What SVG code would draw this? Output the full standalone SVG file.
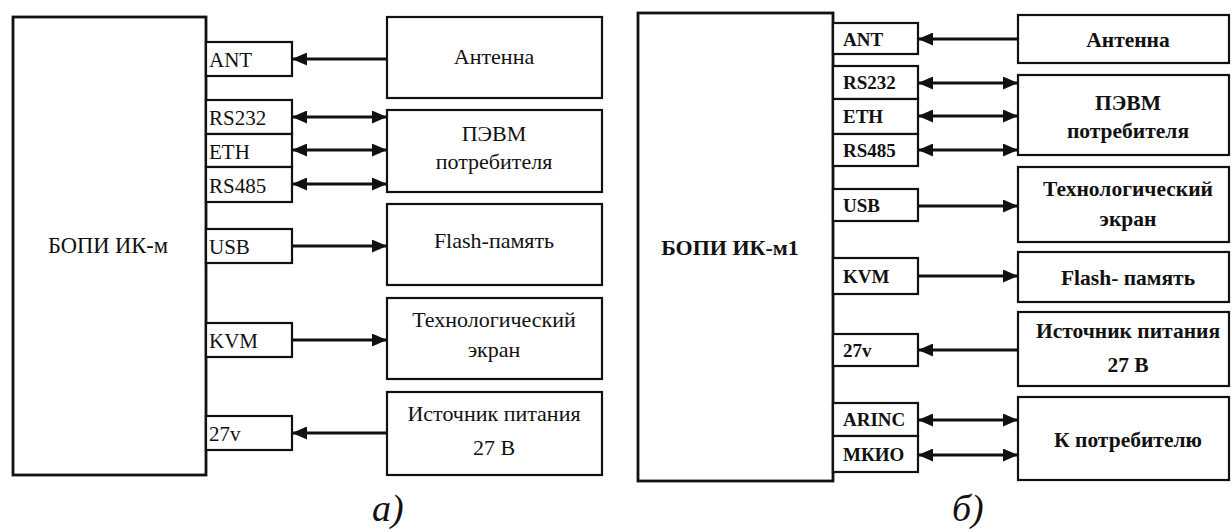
<svg xmlns="http://www.w3.org/2000/svg" width="1232" height="532" viewBox="0 0 1232 532">
<style>
.box{fill:#fff;stroke:#111;stroke-width:2.2}
.main{fill:#fff;stroke:#111;stroke-width:2.8}
.t{font-family:"Liberation Serif","DejaVu Serif","Times New Roman",serif;fill:#111}
.pa{font-size:21px}
.pb{font-size:19px;font-weight:bold}
.ra{font-size:22px;text-anchor:middle}
.rb{font-size:21.5px;font-weight:bold;text-anchor:middle}
.c{stroke:#111;stroke-width:3;fill:none}
.cap{font-family:"Liberation Serif","DejaVu Serif","Times New Roman",serif;font-style:italic;font-size:38px;fill:#111}
</style>
<defs>
<marker id="ah" viewBox="0 0 15 13" refX="14" refY="6.5" markerWidth="15" markerHeight="13" markerUnits="userSpaceOnUse" orient="auto-start-reverse">
<path d="M0,0 L15,6.5 L0,13 z" fill="#111"/>
</marker>
</defs>
<rect width="1232" height="532" fill="#fff"/>

<!-- Diagram a -->
<g id="main-a"><rect class="main" x="13" y="17" width="193" height="458"/><text class="t" x="108" y="253" font-size="22.5" text-anchor="middle">БОПИ ИК-м</text></g>
<g id="a-ant"><rect class="box" x="206" y="42" width="86" height="34"/><text class="t pa" x="209" y="67">ANT</text></g>
<g id="a-rs232"><rect class="box" x="206" y="100" width="86" height="34"/><text class="t pa" x="209" y="125">RS232</text></g>
<g id="a-eth"><rect class="box" x="206" y="134" width="86" height="33"/><text class="t pa" x="209" y="159">ETH</text></g>
<g id="a-rs485"><rect class="box" x="206" y="167" width="86" height="35"/><text class="t pa" x="209" y="193">RS485</text></g>
<g id="a-usb"><rect class="box" x="206" y="229" width="86" height="34"/><text class="t pa" x="209" y="254">USB</text></g>
<g id="a-kvm"><rect class="box" x="206" y="323" width="86" height="34"/><text class="t pa" x="209" y="348">KVM</text></g>
<g id="a-27v"><rect class="box" x="206" y="416" width="86" height="34"/><text class="t pa" x="209" y="441">27v</text></g>

<g id="a-antenna"><rect class="box" x="387" y="17" width="215" height="81"/><text class="t ra" x="494" y="64">Антенна</text></g>
<g id="a-pc"><rect class="box" x="387" y="110" width="215" height="82"/><text class="t ra" x="494" y="141">ПЭВМ</text><text class="t ra" x="494" y="169">потребителя</text></g>
<g id="a-flash"><rect class="box" x="387" y="204" width="215" height="81"/><text class="t ra" x="494" y="248">Flash-память</text></g>
<g id="a-screen"><rect class="box" x="387" y="298" width="215" height="81"/><text class="t ra" x="494" y="327">Технологический</text><text class="t ra" x="494" y="357">экран</text></g>
<g id="a-power"><rect class="box" x="387" y="392" width="215" height="83"/><text class="t ra" x="494" y="421">Источник питания</text><text class="t ra" x="494" y="455">27 В</text></g>

<!-- Diagram b -->
<g id="main-b"><rect class="main" x="638" y="13" width="195" height="468"/><text class="t" x="730" y="255" font-size="22" font-weight="bold" text-anchor="middle">БОПИ ИК-м1</text></g>
<g id="b-ant"><rect class="box" x="833" y="23" width="85" height="31"/><text class="t pb" x="843" y="46">ANT</text></g>
<g id="b-rs232"><rect class="box" x="833" y="66" width="85" height="33"/><text class="t pb" x="843" y="89">RS232</text></g>
<g id="b-eth"><rect class="box" x="833" y="99" width="85" height="35"/><text class="t pb" x="843" y="123">ETH</text></g>
<g id="b-rs485"><rect class="box" x="833" y="134" width="85" height="32"/><text class="t pb" x="843" y="157">RS485</text></g>
<g id="b-usb"><rect class="box" x="833" y="189" width="85" height="32"/><text class="t pb" x="843" y="212">USB</text></g>
<g id="b-kvm"><rect class="box" x="833" y="258" width="85" height="36"/><text class="t pb" x="843" y="283">KVM</text></g>
<g id="b-27v"><rect class="box" x="833" y="334" width="85" height="32"/><text class="t pb" x="843" y="357">27v</text></g>
<g id="b-arinc"><rect class="box" x="833" y="403" width="85" height="33"/><text class="t pb" x="843" y="426">ARINC</text></g>
<g id="b-mkio"><rect class="box" x="833" y="436" width="85" height="36"/><text class="t pb" x="843" y="461">МКИО</text></g>

<g id="b-antenna"><rect class="box" x="1018" y="15" width="211" height="48"/><text class="t rb" x="1128" y="47">Антенна</text></g>
<g id="b-pc"><rect class="box" x="1018" y="75" width="211" height="80"/><text class="t rb" x="1128" y="110">ПЭВМ</text><text class="t rb" x="1128" y="138">потребителя</text></g>
<g id="b-screen"><rect class="box" x="1018" y="167" width="211" height="75"/><text class="t rb" x="1128" y="196">Технологический</text><text class="t rb" x="1128" y="226">экран</text></g>
<g id="b-flash"><rect class="box" x="1018" y="252" width="211" height="50"/><text class="t rb" x="1128" y="285">Flash- память</text></g>
<g id="b-power"><rect class="box" x="1018" y="312" width="211" height="74"/><text class="t rb" x="1128" y="338">Источник питания</text><text class="t rb" x="1128" y="372">27 В</text></g>
<g id="b-consumer"><rect class="box" x="1018" y="397" width="211" height="83"/><text class="t rb" x="1128" y="447">К потребителю</text></g>

<g id="connectors">
<line class="c" x1="387" y1="59" x2="293" y2="59" marker-end="url(#ah)"/>
<line class="c" x1="293" y1="117" x2="386" y2="117" marker-start="url(#ah)" marker-end="url(#ah)"/>
<line class="c" x1="293" y1="150" x2="386" y2="150" marker-start="url(#ah)" marker-end="url(#ah)"/>
<line class="c" x1="293" y1="184" x2="386" y2="184" marker-start="url(#ah)" marker-end="url(#ah)"/>
<line class="c" x1="292" y1="246" x2="386" y2="246" marker-end="url(#ah)"/>
<line class="c" x1="292" y1="340" x2="386" y2="340" marker-end="url(#ah)"/>
<line class="c" x1="387" y1="433" x2="293" y2="433" marker-end="url(#ah)"/>

<line class="c" x1="1018" y1="39" x2="919" y2="39" marker-end="url(#ah)"/>
<line class="c" x1="919" y1="83" x2="1017" y2="83" marker-start="url(#ah)" marker-end="url(#ah)"/>
<line class="c" x1="919" y1="116" x2="1017" y2="116" marker-start="url(#ah)" marker-end="url(#ah)"/>
<line class="c" x1="919" y1="150" x2="1017" y2="150" marker-start="url(#ah)" marker-end="url(#ah)"/>
<line class="c" x1="918" y1="206" x2="1017" y2="206" marker-end="url(#ah)"/>
<line class="c" x1="918" y1="276" x2="1017" y2="276" marker-end="url(#ah)"/>
<line class="c" x1="1018" y1="350" x2="919" y2="350" marker-end="url(#ah)"/>
<line class="c" x1="919" y1="420" x2="1017" y2="420" marker-start="url(#ah)" marker-end="url(#ah)"/>
<line class="c" x1="919" y1="455" x2="1017" y2="455" marker-start="url(#ah)" marker-end="url(#ah)"/>
</g>

<text class="cap" x="372" y="521">a)</text>
<text class="cap" x="952" y="521">б)</text>
</svg>
